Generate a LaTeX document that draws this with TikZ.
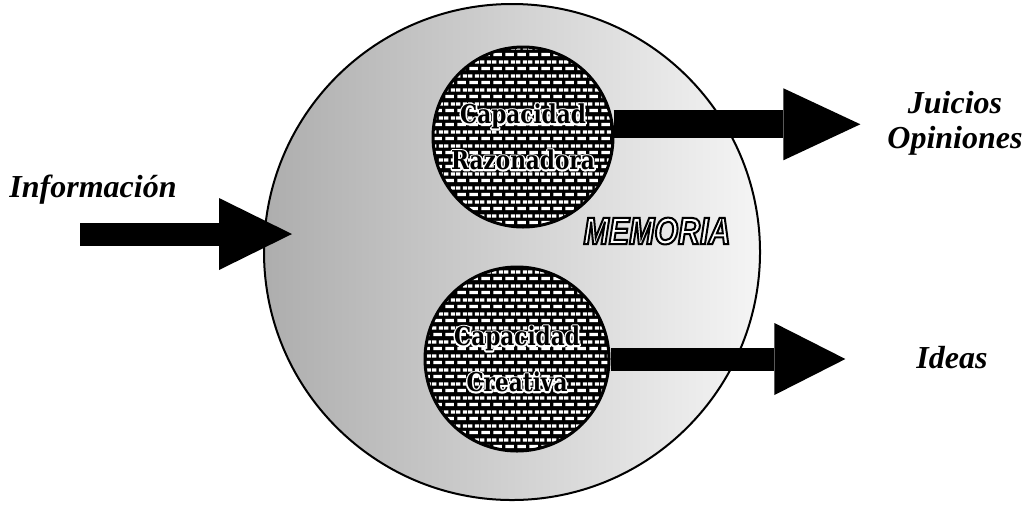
\documentclass[tikz,border=0pt]{standalone}
\usepackage{fontspec}
\usetikzlibrary{arrows.meta,patterns}
\newfontfamily\memfont[FakeStretch=0.8]{Liberation Sans}
\newfontfamily\capfont[FakeStretch=0.83]{DejaVu Serif}
\newfontfamily\lblfont{Liberation Serif}
\newcommand\rimtext[3]{\special{pdf:literal direct #1 G #2 w 2 Tr}#3\special{pdf:literal direct 0 Tr}}
\newcommand\halotext[1]{\rlap{\special{pdf:literal direct 1 G 1.6 w 1 j 1 Tr}#1\special{pdf:literal direct 0 Tr}}#1}
\pgfdeclarepatternformonly{brickwall}{\pgfqpoint{0pt}{0pt}}{\pgfqpoint{6pt}{7pt}}{\pgfqpoint{6pt}{7pt}}{%
  \pgfpathrectangle{\pgfqpoint{0.7pt}{1pt}}{\pgfqpoint{4.6pt}{1.7pt}}%
  \pgfpathrectangle{\pgfqpoint{3.7pt}{4.5pt}}{\pgfqpoint{2.3pt}{1.7pt}}%
  \pgfpathrectangle{\pgfqpoint{0pt}{4.5pt}}{\pgfqpoint{2.3pt}{1.7pt}}%
  \pgfusepath{fill}}
\tikzset{
  ring/.style={circle,draw=black,line width=1pt,inner sep=0pt},
  core/.style={circle,draw=black,line width=1.5pt,inner sep=0pt,preaction={fill=black},
    pattern=brickwall,pattern color=white,align=center,
    font=\capfont\bfseries\fontsize{13}{23}\selectfont},
  lbl/.style={font=\lblfont\bfseries\itshape\fontsize{16}{17.5}\selectfont,align=center},
  fat/.style n args={3}{line width=#1,-{Triangle[length=#2,width=#3,line width=0pt]}},
}
\begin{document}
\begin{tikzpicture}[x=0.5pt,y=-0.5pt,
  memo/.style={text=white,font=\memfont\bfseries\itshape\fontsize{19}{19}\selectfont}]
  \useasboundingbox (0,0) rectangle (1031,505);
  \node[ring,minimum size=248pt,left color=black!32,right color=black!4] (mem) at (512,252) {};
  \node[core,minimum size=90pt] (raz) at (523,137) {\halotext{Capacidad}\\\halotext{Razonadora}};
  \node[core,minimum size=92pt] (cre) at (517,359) {\halotext{Capacidad}\\\halotext{Creativa}};
  \node[memo] (memlabel) at (657,231) {\rimtext{0}{1}{MEMORIA}};
  \node[lbl] (info) at (93,190) {Información};
  \node[lbl] (juicios) at (955,123) {Juicios\\Opiniones};
  \node[lbl] (ideas) at (952,358) {Ideas};
  \coordinate (infoin) at (80,234);
  \draw[fat={11.5pt}{36.5pt}{36pt}] (infoin) -- ([xshift=14.5pt]infoin -| mem.west);
  \draw[fat={14pt}{38.5pt}{36pt},shorten >=10pt] (raz.8) -- (juicios.west |- raz.8);
  \draw[fat={11.5pt}{35.5pt}{36pt},shorten >=32pt] (cre.east) -- (ideas.west |- cre.east);
\end{tikzpicture}
\end{document}
